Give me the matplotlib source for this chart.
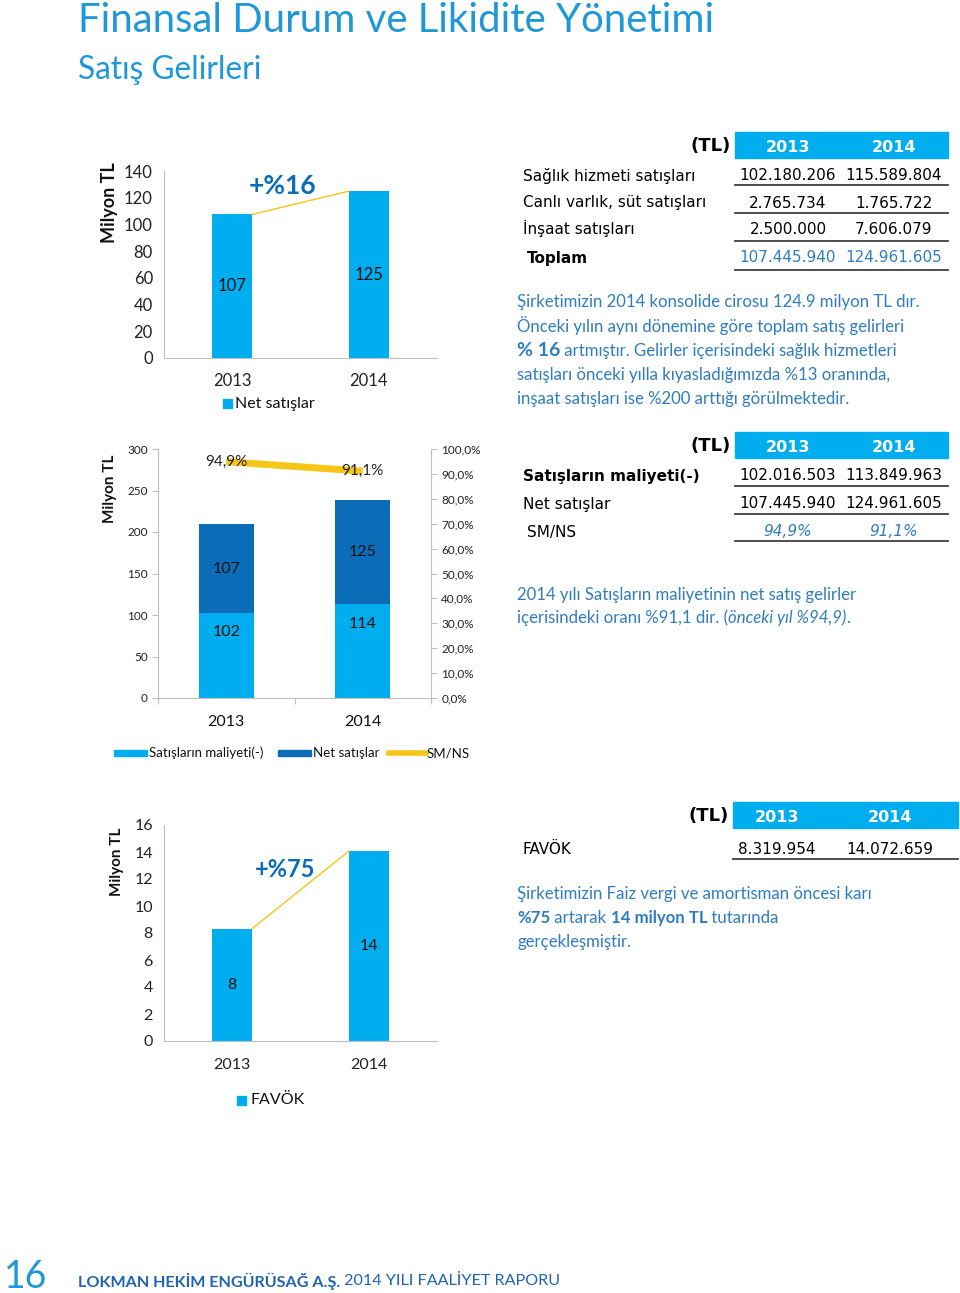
import matplotlib
matplotlib.use("Agg")
import matplotlib.pyplot as plt
from matplotlib.patches import Rectangle
from matplotlib.lines import Line2D

W, H = 960, 1293

# --- veriler ---
years = ["2013", "2014"]
net_sales = [107.445940, 124.961605]          # Milyon TL
cost_of_sales = [102.016503, 113.849963]      # Milyon TL
sm_ns = [94.9, 91.1]                          # %
favok = [8.319954, 14.072659]                 # Milyon TL

net_labels = ["107", "125"]
cost_labels = ["102", "114"]
sm_ns_labels = ["94,9%", "91,1%"]
favok_labels = ["8", "14"]

table1_rows = ["Sağlık hizmeti satışları", "Canlı varlık, süt satışları", "İnşaat satışları", "Toplam"]
table1_2013 = ["102.180.206", "2.765.734", "2.500.000", "107.445.940"]
table1_2014 = ["115.589.804", "1.765.722", "7.606.079", "124.961.605"]

table2_rows = ["Satışların maliyeti(-)", "Net satışlar", "SM/NS"]
table2_2013 = ["102.016.503", "107.445.940", "94,9%"]
table2_2014 = ["113.849.963", "124.961.605", "91,1%"]

table3_rows = ["FAVÖK"]
table3_2013 = ["8.319.954"]
table3_2014 = ["14.072.659"]

CYAN = "#00AEEF"
DARK = "#0B6DB7"
YELLOW = "#F5C518"
TITLE = "#1E98D6"
TEXTBLUE = "#2F7CBF"
GRID = "#BFBFBF"

plt.rcParams['font.family'] = ['Lato', 'DejaVu Sans']

fig = plt.figure(figsize=(9.6, 12.93), dpi=100)
fig.patch.set_facecolor("white")

ov = fig.add_axes([0, 0, 1, 1])
ov.set_xlim(0, W)
ov.set_ylim(H, 0)
ov.axis("off")
ov.set_zorder(5)
ov.patch.set_alpha(0)


def px_axes(left, top, right, bottom):
    return fig.add_axes([left / W, 1 - bottom / H, (right - left) / W, (bottom - top) / H])


def style_axes(ax, tick_size, xpad):
    for s in ["top", "right"]:
        ax.spines[s].set_visible(False)
    ax.spines["left"].set_color(GRID)
    ax.spines["bottom"].set_color(GRID)
    ax.tick_params(axis="y", length=0, labelsize=tick_size, colors="#222222", pad=8)
    ax.tick_params(axis="x", length=0, labelsize=tick_size, colors="#222222", pad=xpad)


def rich(x, y, parts, size, color):
    r = fig.canvas.get_renderer()
    for txt, extra in parts:
        kw = {"fontsize": size, "color": color}
        kw.update(extra)
        t = ov.text(x, y, txt, va="center", ha="left", **kw)
        bb = t.get_window_extent(renderer=r)
        x += bb.width


def ylabel(xc, yc, size):
    ov.text(xc, yc, "Milyon TL", rotation=90, ha="center", va="center",
            fontsize=size, fontweight="bold", color="#111111")


# --- başlık ---
ov.text(78, 21, "Finansal Durum ve Likidite Yönetimi", fontsize=28.9, color=TITLE, va="center")
ov.text(78, 70, "Satış Gelirleri", fontsize=22.8, color=TITLE, va="center")

# --- grafik 1: net satışlar ---
ax1 = px_axes(164, 171, 437, 358)
x = [0, 1]
ax1.bar(x, net_sales, width=0.29, color=CYAN)
ax1.set_xlim(-0.5, 1.5)
ax1.set_ylim(0, 140)
ax1.set_yticks(range(0, 141, 20))
ax1.set_xticks(x)
ax1.set_xticklabels(years)
style_axes(ax1, 12, 11)
for xi, v, lab in zip(x, net_sales, net_labels):
    ax1.text(xi, v / 2, lab, ha="center", va="center", fontsize=12, color="#111111")
ax1.plot([0 + 0.145, 1 - 0.145], net_sales, color=YELLOW, lw=1)
ax1.text(0.37, 129, "+%16", ha="center", va="center", fontsize=19, fontweight="bold", color=DARK)
ylabel(109, 203, 13)
ov.add_patch(Rectangle((223, 399), 9, 9, color=CYAN))
ov.text(235, 404, "Net satışlar", fontsize=11.5, va="center", color="#111111")

# --- grafik 2: maliyet / net satışlar ---
ax2 = px_axes(158, 449, 431, 698)
ax2.bar(x, cost_of_sales, width=0.4, color=CYAN, label="Satışların maliyeti(-)")
ax2.bar(x, net_sales, width=0.4, bottom=cost_of_sales, color=DARK, label="Net satışlar")
ax2.set_xlim(-0.5, 1.5)
ax2.set_ylim(0, 300)
ax2.set_yticks(range(0, 301, 50))
ax2.set_xticks([-0.5, 0.5, 1.5], minor=False)
ax2.set_xticklabels([])
ax2.set_xticks(x, minor=True)
ax2.set_xticklabels(years, minor=True)
for s in ["top", "right"]:
    ax2.spines[s].set_visible(False)
ax2.spines["left"].set_color(GRID)
ax2.spines["bottom"].set_color(GRID)
ax2.tick_params(axis="y", length=4, color=GRID, labelsize=8.5, labelcolor="#222222")
ax2.tick_params(axis="x", which="major", length=4, color=GRID)
ax2.tick_params(axis="x", which="minor", length=0, labelsize=11.5, pad=12, labelcolor="#111111")
for xi, c, n, cl, nl in zip(x, cost_of_sales, net_sales, cost_labels, net_labels):
    ax2.text(xi, c * 0.78, cl, ha="center", va="center", fontsize=11.5, color="#111111")
    ax2.text(xi, c + n / 2, nl, ha="center", va="center", fontsize=11.5, color="#111111")
ylabel(110, 489, 11)
ax2b = ax2.twinx()
ax2b.plot(x, sm_ns, color=YELLOW, lw=5, solid_capstyle="butt")
ax2b.set_ylim(0, 100)
ax2b.set_yticks(range(0, 101, 10))
ax2b.set_yticklabels([f"{v},0%" for v in range(0, 101, 10)])
for s in ["top", "left", "bottom"]:
    ax2b.spines[s].set_visible(False)
ax2b.spines["right"].set_color(GRID)
ax2b.tick_params(axis="y", length=4, color=GRID, labelsize=8.5, labelcolor="#222222")
for xi, v, lab in zip(x, sm_ns, sm_ns_labels):
    ax2b.text(xi, v, lab, ha="center", va="center", fontsize=11, color="#222222")

ov.add_patch(Rectangle((114, 750), 33, 6, color=CYAN))
ov.text(149, 753, "Satışların maliyeti(-)", fontsize=9.5, va="center", color="#111111")
ov.add_patch(Rectangle((278, 750), 33, 6, color=DARK))
ov.text(313, 753, "Net satışlar", fontsize=9.5, va="center", color="#111111")
ov.add_line(Line2D([389, 426], [753, 753], color=YELLOW, lw=4))
ov.text(427, 753, "SM/NS", fontsize=9.5, va="center", color="#111111")

# --- grafik 3: FAVÖK ---
ax3 = px_axes(164, 825, 437, 1041)
ax3.bar(x, favok, width=0.29, color=CYAN)
ax3.set_xlim(-0.5, 1.5)
ax3.set_ylim(0, 16)
ax3.set_yticks(range(0, 17, 2))
ax3.set_xticks(x)
ax3.set_xticklabels(years)
style_axes(ax3, 11.5, 12)
for xi, v, lab in zip(x, favok, favok_labels):
    ax3.text(xi, v / 2, lab, ha="center", va="center", fontsize=11.5, color="#111111")
ax3.plot([0 + 0.145, 1 - 0.145], favok, color=YELLOW, lw=1)
ax3.text(0.39, 12.7, "+%75", ha="center", va="center", fontsize=17, fontweight="bold", color=DARK)
ylabel(117, 862, 11)
ov.add_patch(Rectangle((237, 1096), 9, 9, color=CYAN))
ov.text(250, 1100, "FAVÖK", fontsize=11.5, va="center", color="#111111")


# --- tablolar ---
TF = ["DejaVu Sans"]


def table(top, x0, x1, c1, c2, rows, v13, v14, row_y, line_y, label_kw, value_kw):
    ov.add_patch(Rectangle((x0, top), x1 - x0, 26, color=CYAN))
    ov.text(x0 - 4, top + 14, "(TL)", ha="right", va="center", fontsize=13, fontweight="bold", family=TF)
    ov.text(c1, top + 16, "2013", ha="center", va="center", fontsize=11.5, fontweight="bold", color="white", family=TF)
    ov.text(c2, top + 16, "2014", ha="center", va="center", fontsize=11.5, fontweight="bold", color="white", family=TF)
    for i, (lab, a, b) in enumerate(zip(rows, v13, v14)):
        kw = dict(label_kw[i])
        vk = value_kw[i]
        lx = kw.pop("x", 523)
        ov.text(lx, row_y[i][0], lab, va="center", fontsize=11, family=TF, **kw)
        ov.text(c1, row_y[i][1], a, ha="center", va="center", fontsize=11, family=TF, **vk)
        ov.text(c2, row_y[i][1], b, ha="center", va="center", fontsize=11, family=TF, **vk)
        ov.add_line(Line2D([x0, x1], [line_y[i], line_y[i]], color="#404040", lw=1.3))


table(132, 735, 948, 788, 894, table1_rows, table1_2013, table1_2014,
      [(176, 176), (203, 203), (228, 230), (258, 258)], [185, 213, 241, 270],
      [{}, {}, {}, {"fontweight": "bold", "x": 527}],
      [{}, {}, {}, {"color": TEXTBLUE}])

table(432, 735, 948, 788, 894, table2_rows, table2_2013, table2_2014,
      [(476, 476), (504, 504), (532, 532)], [486, 514, 541],
      [{"fontweight": "bold"}, {}, {"x": 527}],
      [{}, {}, {"color": TEXTBLUE, "style": "italic"}])

table(802, 733, 958, 777, 890, table3_rows, table3_2013, table3_2014,
      [(849, 849)], [859],
      [{}], [{}])

# --- açıklamalar ---
PS = 12.1
rich(517, 302, [("Şirketimizin 2014 konsolide cirosu 124.9 milyon TL dır.", {})], PS, TEXTBLUE)
rich(517, 326, [("Önceki yılın aynı dönemine göre toplam satış gelirleri", {})], PS, TEXTBLUE)
rich(517, 351, [("% 16", {"fontweight": "bold", "fontsize": 14}),
                (" artmıştır. Gelirler içerisindeki sağlık hizmetleri", {})], PS, TEXTBLUE)
rich(517, 375, [("satışları önceki yılla kıyasladığımızda %13 oranında,", {})], PS, TEXTBLUE)
rich(517, 399, [("inşaat satışları ise %200 arttığı görülmektedir.", {})], PS, TEXTBLUE)

rich(517, 595, [("2014 yılı Satışların maliyetinin net satış gelirler", {})], PS, TEXTBLUE)
rich(517, 618, [("içerisindeki oranı %91,1 dir. (", {}), ("önceki yıl %94,9)", {"style": "italic"}), (".", {})],
     PS, TEXTBLUE)

rich(517, 894, [("Şirketimizin Faiz vergi ve amortisman öncesi karı", {})], PS, TEXTBLUE)
rich(517, 918, [("%75", {"fontweight": "bold"}), (" artarak ", {}), ("14 milyon TL", {"fontweight": "bold"}),
                (" tutarında", {})], PS, TEXTBLUE)
rich(517, 942, [("gerçekleşmiştir.", {})], PS, TEXTBLUE)

# --- alt bilgi ---
ov.text(4, 1277, "16", fontsize=27, color=TITLE, va="center")
rich(78, 1281, [("LOKMAN HEKİM ENGÜRÜSAĞ A.Ş.", {"fontweight": "bold"}),
                (" 2014 YILI FAALİYET RAPORU", {})], 11.6, "#1F64AE")

fig.savefig("out.png", dpi=100, facecolor="white")
